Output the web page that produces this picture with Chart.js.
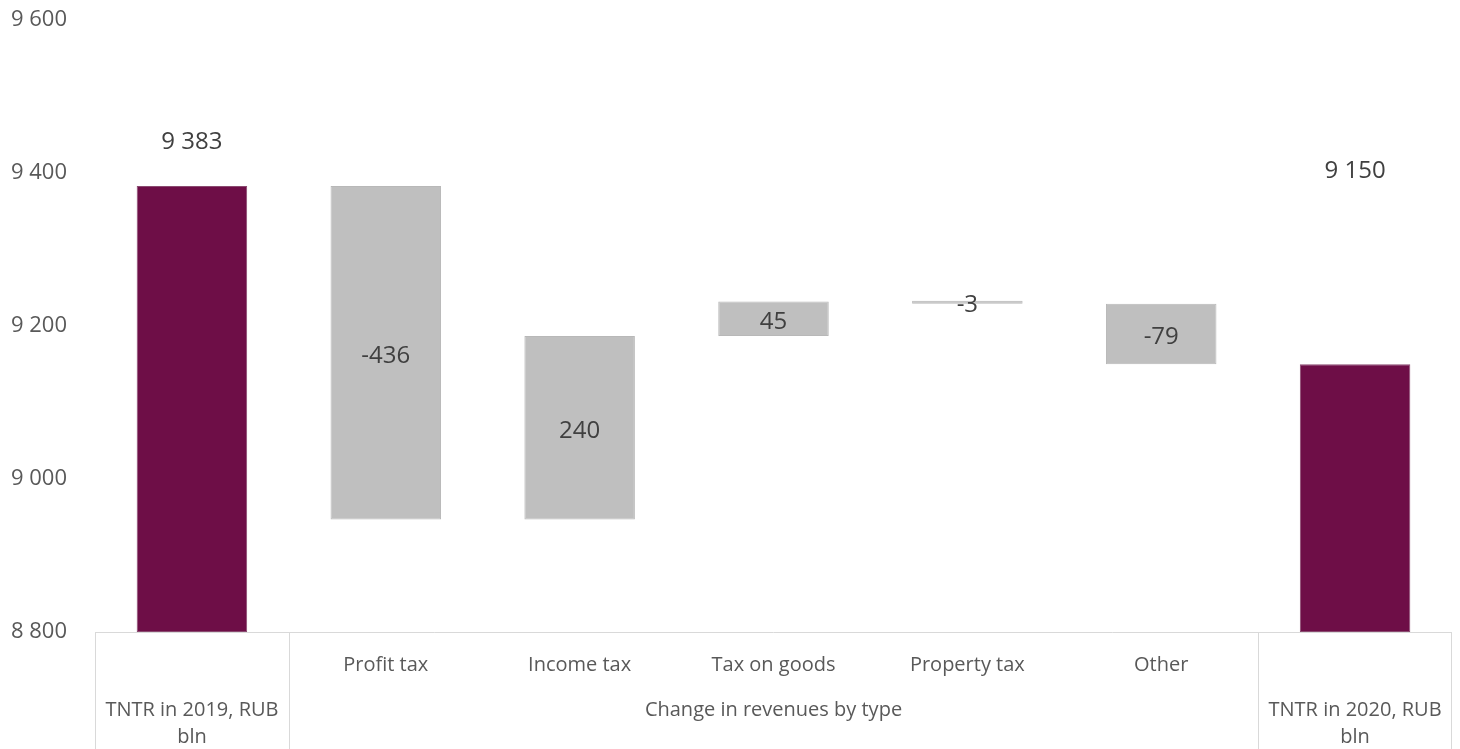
<!DOCTYPE html>
<html>
<head>
<meta charset="utf-8">
<script src="https://cdn.jsdelivr.net/npm/chart.js@4.4.1/dist/chart.umd.min.js"></script>
<style>
    html, body { margin: 0; padding: 0; background: #fff; }
    #wrap { width: 1460px; height: 749px; }
</style>
</head>
<body>
<div id="wrap"><canvas id="dataChart"></canvas></div>
<script>
// Waterfall data (RUB bln)
const categories = ["TNTR in 2019, RUB bln", "Profit tax", "Income tax", "Tax on goods", "Property tax", "Other", "TNTR in 2020, RUB bln"];
const startTotal = 9383;
const changes = [-436, 240, 45, -3, -79];
const endTotal = 9150;
const yTicks = [8800, 9000, 9200, 9400, 9600];

// Axis table text
const topRowLabels = ["", "Profit tax", "Income tax", "Tax on goods", "Property tax", "Other", ""];
const groupLabels = [
    { from: 0, to: 0, text: ["TNTR in 2019, RUB", "bln"] },
    { from: 1, to: 5, text: ["Change in revenues by type"] },
    { from: 6, to: 6, text: ["TNTR in 2020, RUB", "bln"] }
];

const MAROON = "#6E0E47";
const GREY = "#BFBFBF";
const FONT = "'Open Sans', 'Noto Sans', sans-serif";

// build floating bars
const bars = [[yTicks[0], startTotal]];
const barLabels = [startTotal];
let running = startTotal;
changes.forEach(c => {
    bars.push([running, running + c]);
    barLabels.push(c);
    running += c;
});
bars.push([yTicks[0], endTotal]);
barLabels.push(endTotal);

const isTotal = i => i === 0 || i === bars.length - 1;
const colors = bars.map((b, i) => isTotal(i) ? MAROON : GREY);
const borders = bars.map((b, i) => isTotal(i) ? "#8A4A70" : "#B8B8B8");
// how far above the bar top the total labels sit (px); change labels sit in the middle
const labelLift = [44, null, null, null, null, null, 193];

function fmt(v) {
    return String(v).replace(/\B(?=(\d{3})+(?!\d))/g, " ");
}

const valueLabels = {
    id: "valueLabels",
    afterDatasetsDraw(chart) {
        const ctx = chart.ctx;
        const meta = chart.getDatasetMeta(0);
        ctx.save();
        ctx.font = "24px " + FONT;
        ctx.fillStyle = "#404040";
        ctx.textAlign = "center";
        ctx.textBaseline = "middle";
        meta.data.forEach((bar, i) => {
            const top = Math.min(bar.y, bar.base);
            let y;
            if (labelLift[i] !== null) {
                y = top - labelLift[i];
            } else {
                y = (bar.y + bar.base) / 2 + 3;
            }
            ctx.fillText(fmt(barLabels[i]), bar.x, y);
        });
        ctx.restore();
    }
};

const axisTable = {
    id: "axisTable",
    afterDraw(chart) {
        const ctx = chart.ctx;
        const area = chart.chartArea;
        const x = chart.scales.x;
        const n = categories.length;
        const step = (area.right - area.left) / n;
        const edge = i => area.left + step * i;
        ctx.save();
        ctx.strokeStyle = "#D9D9D9";
        ctx.lineWidth = 1;
        ctx.beginPath();
        ctx.moveTo(area.left, area.bottom + 0.5);
        ctx.lineTo(area.right, area.bottom + 0.5);
        groupLabels.forEach(g => {
            const a = Math.round(edge(g.from)) + 0.5;
            ctx.moveTo(a, area.bottom);
            ctx.lineTo(a, chart.height);
        });
        const r = Math.round(area.right) - 0.5;
        ctx.moveTo(r, area.bottom);
        ctx.lineTo(r, chart.height);
        ctx.stroke();

        ctx.font = "20px " + FONT;
        ctx.fillStyle = "#595959";
        ctx.textAlign = "center";
        ctx.textBaseline = "middle";
        topRowLabels.forEach((t, i) => {
            if (t) ctx.fillText(t, x.getPixelForValue(i), area.bottom + 33);
        });
        groupLabels.forEach(g => {
            const cx = (edge(g.from) + edge(g.to + 1)) / 2;
            g.text.forEach((line, k) => {
                ctx.fillText(line, cx, area.bottom + 78 + k * 27);
            });
        });
        ctx.restore();
    }
};

function createChart() {
    const ctx = document.getElementById("dataChart").getContext("2d");
    new Chart(ctx, {
        type: "bar",
        data: {
            labels: categories,
            datasets: [{
                data: bars,
                backgroundColor: colors,
                borderColor: borders,
                borderWidth: 1,
                borderSkipped: false,
                minBarLength: 3,
                categoryPercentage: 1,
                barPercentage: 0.57
            }]
        },
        options: {
            responsive: true,
            maintainAspectRatio: false,
            animation: false,
            layout: { padding: { top: 20, right: 8, bottom: 117, left: 11 } },
            plugins: {
                legend: { display: false },
                tooltip: { enabled: false }
            },
            scales: {
                x: { display: false },
                y: {
                    min: yTicks[0],
                    max: yTicks[yTicks.length - 1],
                    afterBuildTicks: s => { s.ticks = yTicks.map(v => ({ value: v })); },
                    afterFit: s => { s.width = 84; },
                    grid: { display: false },
                    border: { display: false },
                    ticks: {
                        crossAlign: "far",
                        color: "#595959",
                        font: { family: FONT, size: 22 },
                        callback: v => fmt(v)
                    }
                }
            }
        },
        plugins: [valueLabels, axisTable]
    });
}

createChart();
</script>
</body>
</html>
